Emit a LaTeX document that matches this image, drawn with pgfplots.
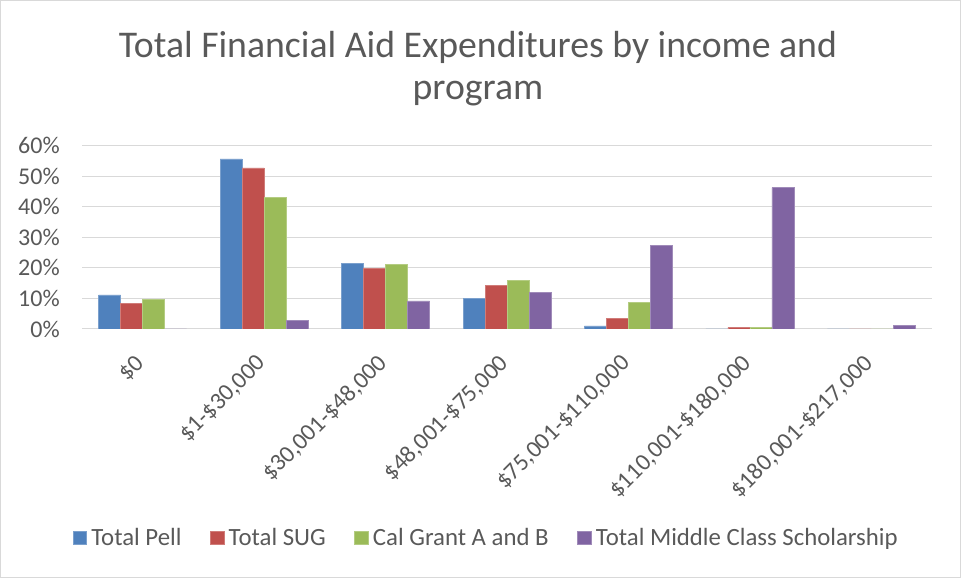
\documentclass[border=0pt]{standalone}
\usepackage{fontspec}
\setmainfont{Carlito}
\usepackage{pgfplots}
\pgfplotsset{compat=1.18}
\definecolor{txt}{HTML}{595959}
\definecolor{gridc}{HTML}{D9D9D9}
\definecolor{pell}{HTML}{4F81BD}
\definecolor{sug}{HTML}{C0504D}
\definecolor{cal}{HTML}{9BBB59}
\definecolor{mcs}{HTML}{8064A2}
\begin{document}
\begin{tikzpicture}
\path[use as bounding box] (0,0) rectangle (720.75pt,433.5pt);
\draw[gridc, line width=0.75pt] (0.4pt,0.4pt) rectangle (720.35pt,433.1pt);
\node[font=\fontsize{28.3}{33}\selectfont, text=txt] at (358.5pt,398.25pt) {Total Financial Aid Expenditures by income and};
\node[font=\fontsize{28.3}{33}\selectfont, text=txt] at (358.5pt,363pt) {program};
\begin{axis}[
    at={(61.5pt,186.75pt)}, anchor=south west,
    scale only axis, width=637.5pt, height=137.5pt,
    xmin=-0.5, xmax=6.5, ymin=0, ymax=60,
    ybar=0pt, bar width=16.5pt,
    axis line style={draw=none}, major tick length=0pt,
    ymajorgrids, grid style={gridc, line width=0.75pt},
    ytick={0,10,...,60},
    yticklabels={0\%,10\%,20\%,30\%,40\%,50\%,60\%},
    xtick={0,...,6},
    xticklabels={\$0,\$1-\$30{,}000,\$30{,}001-\$48{,}000,\$48{,}001-\$75{,}000,\$75{,}001-\$110{,}000,\$110{,}001-\$180{,}000,\$180{,}001-\$217{,}000},
    tick label style={font=\fontsize{18}{21}\selectfont, text=txt},
    yticklabel style={inner sep=0pt, xshift=-16.5pt},
    xticklabel style={yshift=-23pt, xshift=-1.5pt, rotate=45, anchor=east, inner sep=0pt},
    legend columns=4,
    legend style={draw=none, fill=none, at={(0.476,-1.14)}, anchor=center,
        font=\fontsize{18.6}{21}\selectfont, text=txt,
        /tikz/every odd column/.append style={column sep=1.5pt},
        /tikz/every even column/.append style={column sep=19.5pt}},
    legend image code/.code={\path[#1] (0pt,-5pt) rectangle (10pt,5pt);},
]
\addplot[fill=pell, draw=pell!75!white, line width=0.4pt] coordinates {(0,11.2) (1,55.7) (2,21.4) (3,9.9) (4,1.0) (5,0) (6,0)};
\addplot[fill=sug, draw=sug!75!white, line width=0.4pt] coordinates {(0,8.4) (1,52.7) (2,19.9) (3,14.3) (4,3.4) (5,0.5) (6,0)};
\addplot[fill=cal, draw=cal!75!white, line width=0.4pt] coordinates {(0,9.6) (1,43.1) (2,21.1) (3,15.9) (4,8.8) (5,0.5) (6,0)};
\addplot[fill=mcs, draw=mcs!75!white, line width=0.4pt] coordinates {(0,0) (1,2.7) (2,9.2) (3,12.0) (4,27.4) (5,46.3) (6,1.3)};
\legend{Total Pell,Total SUG,Cal Grant A and B,Total Middle Class Scholarship}
\end{axis}
\end{tikzpicture}
\end{document}
